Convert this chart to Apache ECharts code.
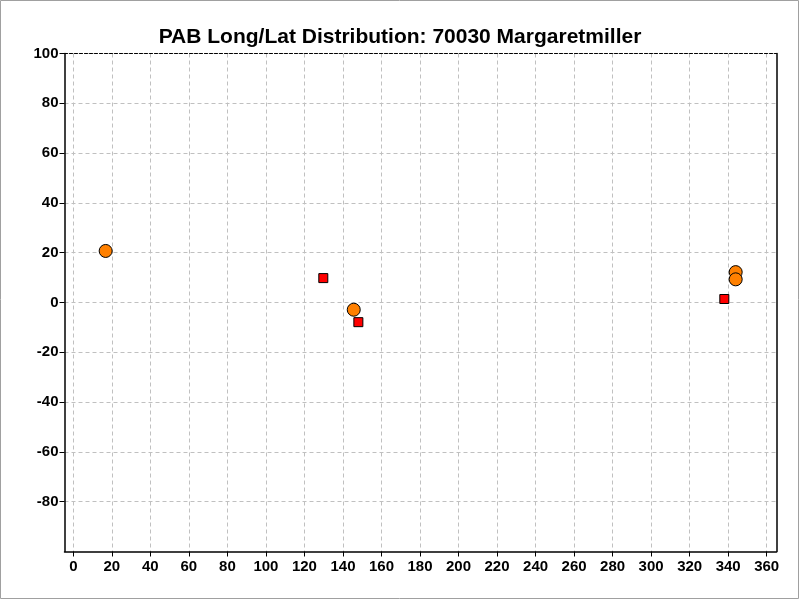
<!DOCTYPE html>
<html><head><meta charset="utf-8">
<script src="https://cdn.jsdelivr.net/npm/echarts@6/dist/echarts.min.js"></script>
<style>html,body{margin:0;padding:0;background:#fff}#c{width:800px;height:600px}</style>
</head><body><div id="c"></div>
<script>
const titleText = 'PAB Long/Lat Distribution: 70030 Margaretmiller';
const circleLong = [16.8, 145.6, 343.9, 343.9];
const circleLat = [20.7, -2.9, 12.2, 9.3];
const squareLong = [129.8, 148.0, 338.0];
const squareLat = [9.8, -7.9, 1.4];

const font = '"Liberation Sans", Arial, sans-serif';
const chart = echarts.init(document.getElementById('c'));
const lbl = {fontFamily: font, fontWeight: 'bold', fontSize: 15, color: '#000'};
const gTop = 53.5, gBottom = 48.5;
chart.setOption({
  backgroundColor: '#fff',
  animation: false,
  title: {text: titleText, left: 'center', top: 22,
    textStyle: {fontFamily: font, fontWeight: 'bold', fontSize: 21, color: '#000'}},
  grid: [
    {left: 64.5, right: 23.5, top: gTop, bottom: gBottom},
    {left: 73.3, right: 33.3, top: gTop, bottom: gBottom}
  ],
  xAxis: [{
    gridIndex: 0, type: 'value', min: 0, max: 1,
    axisLine: {show: true, onZero: false, lineStyle: {color: '#000', width: 1.5}},
    axisTick: {show: false}, axisLabel: {show: false}, splitLine: {show: false}
  }, {
    gridIndex: 0, type: 'value', position: 'top', min: 0, max: 1,
    axisLine: {show: true, onZero: false, lineStyle: {color: '#000', type: [3, 2], width: 1}},
    axisTick: {show: false}, axisLabel: {show: false}, splitLine: {show: false}
  }, {
    gridIndex: 1, type: 'value', min: 0, max: 360, interval: 20,
    axisLine: {show: false, onZero: false},
    axisTick: {show: true, length: 5, lineStyle: {color: '#000'}},
    axisLabel: Object.assign({margin: 8}, lbl),
    splitLine: {show: true, lineStyle: {color: '#c0c0c0', type: [4, 3]}}
  }],
  yAxis: [{
    gridIndex: 0, type: 'value', min: -100, max: 100, interval: 20,
    axisLine: {show: true, onZero: false, lineStyle: {color: '#000', width: 1.5}},
    axisTick: {show: true, length: 5, lineStyle: {color: '#000'}, customValues: [-80,-60,-40,-20,0,20,40,60,80,100]},
    axisLabel: Object.assign({margin: 6, customValues: [-80,-60,-40,-20,0,20,40,60,80,100]}, lbl),
    splitLine: {show: true, lineStyle: {color: '#c0c0c0', type: [4, 3]}}
  }, {
    gridIndex: 0, type: 'value', position: 'right', min: -100, max: 100,
    axisLine: {show: true, onZero: false, lineStyle: {color: '#000', width: 1.5}},
    axisTick: {show: false}, axisLabel: {show: false}, splitLine: {show: false}
  }, {
    gridIndex: 1, type: 'value', min: -100, max: 100, interval: 20, show: false
  }],
  series: [{
    type: 'scatter', xAxisIndex: 2, yAxisIndex: 2, symbol: 'circle', symbolSize: 13,
    data: circleLong.map((x, i) => [x, circleLat[i]]),
    itemStyle: {color: '#ff8000', borderColor: '#000', borderWidth: 1, opacity: 1}
  }, {
    type: 'scatter', xAxisIndex: 2, yAxisIndex: 2, symbol: 'rect', symbolSize: 9,
    data: squareLong.map((x, i) => [x, squareLat[i]]),
    itemStyle: {color: '#ff0000', borderColor: '#000', borderWidth: 1, opacity: 1}
  }],
  graphic: [{type: 'rect', shape: {x: 0.5, y: 0.5, width: 798, height: 598},
    style: {fill: 'none', stroke: '#a0a0a0', lineWidth: 1}, silent: true, z: -1}]
});
</script></body></html>
